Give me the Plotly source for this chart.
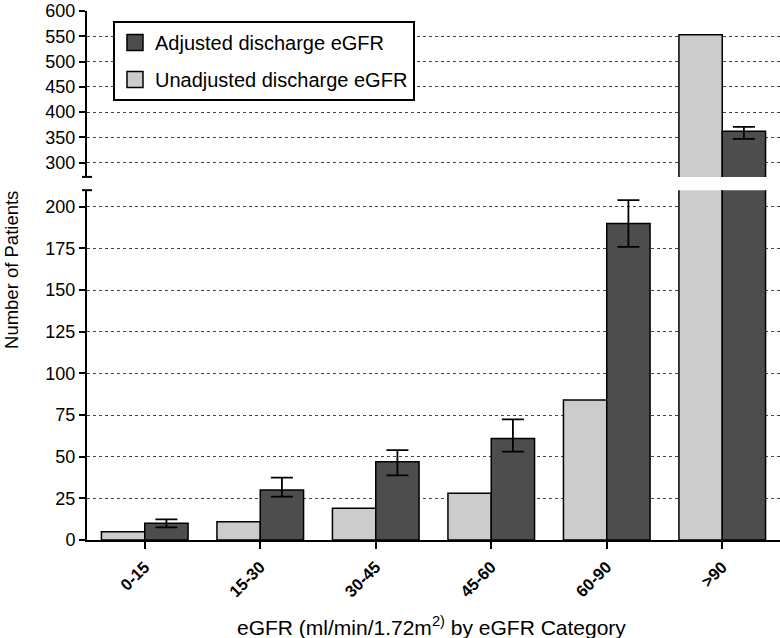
import plotly.graph_objects as go

categories = ["0-15", "15-30", "30-45", "45-60", "60-90", ">90"]
unadjusted = [5, 11, 19, 28, 84, 553]
adjusted = [10, 30, 47, 61, 190, 362]
adj_err_plus = [2.4, 7.4, 7, 11.4, 14, 9]
adj_err_minus = [2.4, 4, 8.2, 8, 14, 15]

top_ticks = [300, 350, 400, 450, 500, 550, 600]
bottom_ticks = [0, 25, 50, 75, 100, 125, 150, 175, 200]

light = "#cccccc"
dark = "#4d4d4d"
font_family = "Liberation Sans, Arial, sans-serif"

fig = go.Figure()

for xa, ya in [("x", "y"), ("x2", "y2")]:
    fig.add_trace(go.Bar(
        x=categories, y=unadjusted, name="Unadjusted discharge eGFR",
        marker=dict(color=light, line=dict(color="black", width=1.5)),
        xaxis=xa, yaxis=ya, showlegend=False, hoverinfo="skip",
    ))
    fig.add_trace(go.Bar(
        x=categories, y=adjusted, name="Adjusted discharge eGFR",
        marker=dict(color=dark, line=dict(color="black", width=1.5)),
        error_y=dict(type="data", symmetric=False, array=adj_err_plus,
                     arrayminus=adj_err_minus, color="black", thickness=1.8, width=11),
        xaxis=xa, yaxis=ya, showlegend=False, hoverinfo="skip",
    ))

# legend entries (square swatches)
for name, col, rank in [("Adjusted discharge eGFR", dark, 1), ("Unadjusted discharge eGFR", light, 2)]:
    fig.add_trace(go.Scatter(
        x=[None], y=[None], mode="markers", name=name, legendrank=rank,
        legendgroup=name,
        marker=dict(symbol="square", size=20, color=col, line=dict(color="black", width=1.5)),
        xaxis="x2", yaxis="y2", showlegend=True,
    ))

bottom_dom = [0, 0.6613]
top_dom = [0.6864, 1]

fig.update_layout(
    width=780, height=638,
    margin=dict(l=87, r=0, t=10.7, b=98, autoexpand=False),
    paper_bgcolor="white", plot_bgcolor="white",
    barmode="group", bargap=0.25, bargroupgap=0,
    font=dict(family=font_family, color="black", size=16),
    xaxis=dict(
        anchor="y", range=[-0.5, 5.5], showline=True, linecolor="black", linewidth=2,
        ticks="outside", ticklen=7, tickwidth=2, tickcolor="black",
        tickangle=-45, tickfont=dict(size=16.5, family=font_family, weight="bold"),
        ticklabelstandoff=2,
        showgrid=False, zeroline=False,
    ),
    xaxis2=dict(anchor="y2", matches="x", visible=False, range=[-0.5, 5.5]),
    yaxis=dict(
        domain=bottom_dom, range=[0, 210], tickvals=bottom_ticks,
        showline=True, linecolor="black", linewidth=2,
        ticks="outside", ticklen=6, tickwidth=1.5, tickcolor="black",
        tickfont=dict(size=18), showgrid=True, gridcolor="#444444", griddash="dot",
        gridwidth=1, zeroline=False,
    ),
    yaxis2=dict(
        domain=top_dom, range=[272, 600], tickvals=top_ticks, anchor="x2",
        showline=True, linecolor="black", linewidth=2,
        ticks="outside", ticklen=6, tickwidth=1.5, tickcolor="black",
        tickfont=dict(size=18), showgrid=True, gridcolor="#444444", griddash="dot",
        gridwidth=1, zeroline=False,
    ),
    legend=dict(
        x=0.0375, y=0.981, xanchor="left", yanchor="top",
        bordercolor="black", borderwidth=2, bgcolor="white",
        font=dict(size=20), traceorder="grouped", tracegroupgap=8,
        itemwidth=30,
    ),
)

# break caps on the y axis
for yref, yval in [("y domain", 1), ("y2 domain", 0)]:
    fig.add_shape(type="line", xref="paper", yref=yref, xsizemode="pixel", xanchor=0,
                  x0=-5, x1=5, y0=yval, y1=yval, line=dict(color="black", width=2))

fig.add_annotation(text="Number of Patients", xref="paper", yref="paper",
                   x=-0.11, y=0.51, textangle=-90, showarrow=False,
                   font=dict(size=18.5), xanchor="center", yanchor="middle")
fig.add_annotation(text="eGFR (ml/min/1.72m<sup>2)</sup> by eGFR Category",
                   xref="paper", yref="paper", x=0.497, y=-0.163, showarrow=False,
                   font=dict(size=21), xanchor="center", yanchor="middle")

fig.write_html("out.html", config={"displayModeBar": False},
               post_script="document.body.style.margin='0';")
